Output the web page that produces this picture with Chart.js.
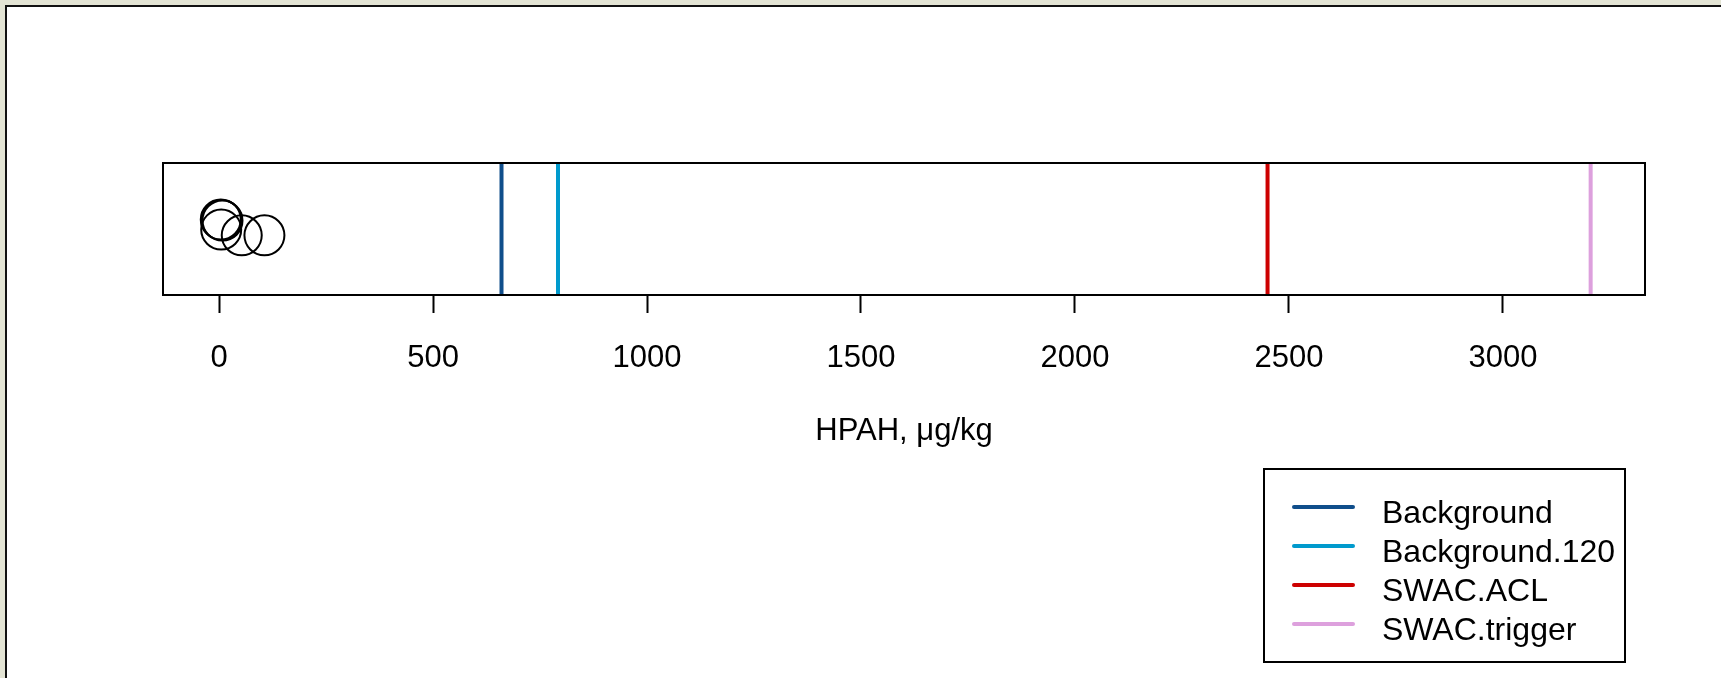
<!DOCTYPE html>
<html lang="en">
<head>
  <meta charset="UTF-8" />
  <title>HPAH stripchart</title>
  <style>
    * { margin: 0; padding: 0; box-sizing: border-box; }
    body {
      background: #e3e4d4;
      width: 1721px;
      height: 678px;
      overflow: hidden;
      position: relative;
      font-family: 'Liberation Sans', Arial, sans-serif;
    }
    /* white plotting page with dark edge on the left and top only */
    .page {
      position: absolute;
      left: 5px;
      top: 5px;
      width: 1730px;
      height: 690px;
      background: #ffffff;
      border-left: 2px solid #111;
      border-top: 2px solid #111;
    }
    #hpahChart {
      position: absolute;
      left: 0;
      top: 0;
    }
  </style>
</head>
<body>
  <div class="page"></div>
  <canvas id="hpahChart" width="1721" height="678"></canvas>
  <script src="https://cdn.jsdelivr.net/npm/chart.js"></script>
  <script>
    // x axis
    const xMin = -131;
    const xMax = 3332;
    const tickValues = [0, 500, 1000, 1500, 2000, 2500, 3000];
    const tickLabels = ["0", "500", "1000", "1500", "2000", "2500", "3000"];
    const axisTitle = "HPAH, \u03bcg/kg";

    // threshold lines
    const thresholdNames = ["Background", "Background.120", "SWAC.ACL", "SWAC.trigger"];
    const thresholdValues = [660, 792, 2450, 3205];
    const thresholdColors = ["#104e8b", "#009acd", "#cd0000", "#dda0dd"];

    // sample values (jittered vertically, y in 0..1 of the strip)
    const hpahValues = [4, 6, 8, 5, 53, 106];
    const jitterY = [0.572, 0.568, 0.564, 0.496, 0.452, 0.452];

    const FONT = "'Liberation Sans', Arial, sans-serif";

    const lineSets = thresholdNames.map((name, i) => ({
      type: "line",
      label: name,
      data: [{ x: thresholdValues[i], y: 0 }, { x: thresholdValues[i], y: 1 }],
      borderColor: thresholdColors[i],
      borderWidth: 4,
      pointRadius: 0,
      showLine: true,
      borderCapStyle: "butt"
    }));

    const pointSet = {
      type: "scatter",
      label: "HPAH",
      data: hpahValues.map((v, i) => ({ x: v, y: jitterY[i] })),
      pointStyle: "circle",
      pointRadius: 20,
      borderWidth: 2,
      borderColor: "#000",
      backgroundColor: "rgba(0,0,0,0)"
    };

    // box round the plotting region
    const boxPlugin = {
      id: "box",
      afterDatasetsDraw(chart) {
        const a = chart.chartArea;
        const c = chart.ctx;
        c.save();
        c.strokeStyle = "#000";
        c.lineWidth = 2;
        c.strokeRect(a.left, a.top, a.right - a.left, a.bottom - a.top);
        c.restore();
      }
    };

    // R-style legend box, bottom right
    const legendPlugin = {
      id: "rLegend",
      afterDraw(chart) {
        const c = chart.ctx;
        c.save();
        c.strokeStyle = "#000";
        c.lineWidth = 2;
        c.strokeRect(1264, 469, 361, 193);
        c.font = "32px " + FONT;
        c.textAlign = "left";
        c.textBaseline = "alphabetic";
        lineSets.forEach((ds, i) => {
          const y = 507 + i * 39;
          c.strokeStyle = ds.borderColor;
          c.lineWidth = 4;
          c.lineCap = "round";
          c.beginPath();
          c.moveTo(1294, y);
          c.lineTo(1353, y);
          c.stroke();
          c.fillStyle = "#000";
          c.fillText(ds.label, 1382, y + 16);
        });
        c.restore();
      }
    };

    const ctx = document.getElementById("hpahChart").getContext("2d");
    new Chart(ctx, {
      type: "scatter",
      data: { datasets: [pointSet, ...lineSets] },
      options: {
        responsive: false,
        animation: false,
        events: [],
        devicePixelRatio: 1,
        layout: { padding: { left: 163, right: 76, top: 163, bottom: 223 } },
        scales: {
          x: {
            type: "linear",
            min: xMin,
            max: xMax,
            afterBuildTicks: s => { s.ticks = tickValues.map(v => ({ value: v })); },
            afterFit: s => { s.height = 160; },
            grid: {
              display: true,
              drawOnChartArea: false,
              drawTicks: true,
              tickLength: 18,
              tickWidth: 2,
              tickColor: "#000"
            },
            border: { display: false },
            ticks: {
              color: "#000",
              font: { family: FONT, size: 31 },
              padding: 27,
              maxRotation: 0,
              autoSkip: false,
              callback: (value, i) => tickLabels[i]
            },
            title: {
              display: true,
              text: axisTitle,
              color: "#000",
              font: { family: FONT, size: 31 },
              padding: { top: 0, bottom: 5 }
            }
          },
          y: { display: false, min: 0, max: 1 }
        },
        plugins: {
          legend: { display: false },
          tooltip: { enabled: false }
        }
      },
      plugins: [boxPlugin, legendPlugin]
    });
  </script>
</body>
</html>
